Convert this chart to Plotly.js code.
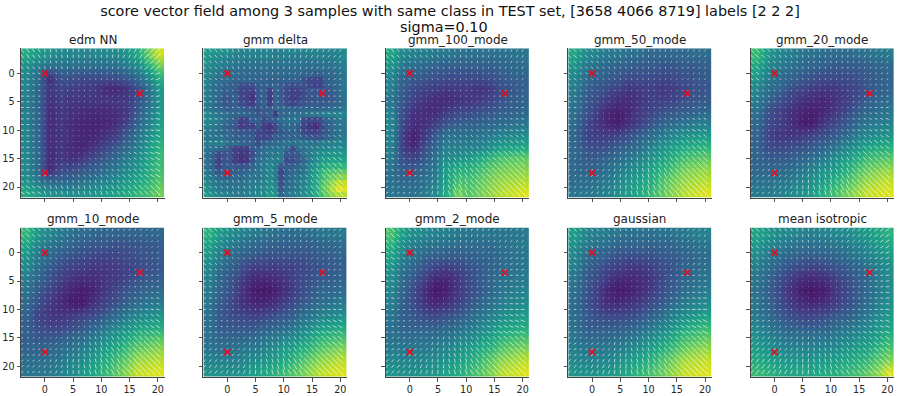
<!DOCTYPE html>
<html>
<head>
<meta charset="utf-8">
<script src="https://cdn.plot.ly/plotly-3.0.1.min.js"></script>
<style>html,body{margin:0;padding:0;background:#fff}</style>
</head>
<body>
<div id="chart" style="width:900px;height:396px"></div>
<script>
var panelNames = ['edm NN','gmm delta','gmm_100_mode','gmm_50_mode','gmm_20_mode','gmm_10_mode','gmm_5_mode','gmm_2_mode','gaussian','mean isotropic'];
var sampleX = [0, 16.8, 0];
var sampleY = [0, 3.5, 17.5];
var tickVals = [0,5,10,15,20];

// colour readings, 0-100 of each panel's own scale
var gridX = [-3.25,-1.3,0.65,2.6,4.55,6.5,8.45,10.4,12.35,14.3,16.25,18.2,20.15];
var gridY = [-3.4,-1.38,0.64,2.66,4.68,6.7,8.72,10.74,12.76,14.78,16.8,18.82,20.84];
// gmm delta has hard edges so it is read cell by cell
var cellX = [-3.72,-2.7,-1.69,-0.67,0.34,1.36,2.38,3.39,4.41,5.42,6.44,7.46,8.47,9.49,10.5,11.52,12.54,13.55,14.57,15.58,16.6,17.62,18.63,19.65,20.67];
var cellY = [-3.9,-2.89,-1.88,-0.87,0.14,1.15,2.16,3.17,4.18,5.2,6.21,7.22,8.23,9.24,10.25,11.26,12.27,13.28,14.29,15.3,16.32,17.33,18.34,19.35,20.36,21.37];

var zEdm = [
[62,55,50,46,45,45,45,46,48,52,62,80,98],
[50,42,37,36,35,35,35,35,36,40,48,65,82],
[45,33,8,24,22,20,20,20,22,25,33,45,65],
[43,30,12,17,15,14,13,8,6,10,20,35,55],
[42,30,10,15,12,12,12,12,13,14,22,34,52],
[42,30,8,13,10,8,7,7,9,12,26,38,54],
[43,30,8,12,8,6,5,6,8,16,30,42,58],
[44,30,8,12,8,6,6,9,14,24,36,48,62],
[44,30,8,12,8,6,10,16,24,32,42,54,66],
[45,31,8,13,9,12,18,25,32,40,48,58,70],
[45,32,6,20,20,24,28,34,40,46,54,62,72],
[50,38,30,30,32,35,39,43,48,54,60,66,76],
[62,54,50,48,48,50,52,55,58,62,68,72,82]];
var zDelta = [
[54,54,52,50,48,46,44,44,44,44,44,44,42,42,44,44,44,44,44,44,44,44,44,44,46],
[52,50,48,46,44,42,42,42,42,42,42,42,42,40,40,40,40,40,40,42,42,42,42,44,46],
[50,46,44,42,40,38,38,36,36,36,36,36,36,36,36,36,36,36,36,36,36,36,38,40,42],
[46,44,42,38,36,36,36,34,34,34,34,34,34,34,34,34,34,34,34,34,34,34,36,38,40],
[44,42,38,36,34,34,32,32,32,32,32,32,32,32,32,32,32,30,30,28,28,30,32,36,38],
[44,38,36,34,32,30,30,30,30,30,30,28,30,28,28,28,28,22,18,18,18,28,30,34,38],
[42,36,34,30,28,28,20,20,20,26,28,28,30,26,22,20,20,22,18,16,16,26,30,32,38],
[42,36,34,28,28,26,18,18,16,24,28,16,30,26,20,16,16,20,24,24,24,24,28,32,38],
[42,36,32,24,24,28,18,16,11,24,28,14,30,26,20,14,16,20,24,24,24,24,26,32,36],
[40,36,32,24,24,28,20,16,14,24,28,16,30,26,20,18,20,22,24,26,26,26,28,32,36],
[40,36,34,30,28,28,28,24,24,22,26,26,30,30,30,30,30,30,30,30,30,32,34,36,38],
[44,40,38,36,34,30,30,30,28,24,26,28,14,30,32,34,34,36,38,38,40,42,42,44,44],
[46,44,40,36,32,28,16,16,28,28,20,24,28,34,36,36,36,20,18,18,20,30,34,38,40],
[42,40,38,32,28,24,14,16,16,24,14,11,20,28,32,32,28,16,12,8,18,26,32,36,38],
[40,38,36,30,30,26,24,24,24,18,16,14,20,24,28,30,28,18,16,16,20,26,32,36,38],
[38,38,38,36,32,28,28,28,26,18,18,18,28,28,30,30,30,24,24,22,24,30,34,38,40],
[40,42,42,40,34,34,30,28,28,20,28,30,34,34,36,36,36,38,38,36,40,42,42,44,44],
[38,36,34,28,26,16,14,14,26,28,34,36,38,38,32,20,34,36,40,42,44,46,46,48,48],
[36,30,20,22,24,16,12,12,20,30,36,38,40,40,24,24,24,36,40,46,48,50,52,52,54],
[36,28,16,22,24,14,10,12,24,34,38,42,42,42,20,20,24,30,40,48,54,56,58,58,60],
[36,30,18,24,26,24,22,24,30,36,40,44,42,26,26,28,30,36,46,54,58,64,66,66,68],
[40,34,24,28,26,28,28,32,34,38,42,46,42,18,28,32,34,38,48,58,66,72,74,76,78],
[42,38,30,30,30,32,32,36,38,38,42,46,42,20,30,34,38,42,50,60,68,76,80,84,86],
[46,40,38,36,34,36,36,38,40,42,44,48,44,22,32,36,40,44,52,62,72,80,88,94,96],
[50,44,40,38,38,38,38,40,42,44,46,50,48,24,34,38,42,46,54,64,74,82,92,100,100],
[54,48,44,42,40,40,40,42,44,46,48,54,52,30,36,40,44,48,56,64,72,80,88,92,94]];
var z100 = [
[60,46,44,42,40,38,36,36,36,36,36,37,38],
[52,38,34,32,30,28,28,28,28,28,30,32,34],
[44,30,26,24,22,20,20,20,20,22,26,28,30],
[42,26,20,16,14,12,14,14,10,14,22,25,28],
[38,24,16,10,8,8,10,12,14,18,24,27,30],
[42,20,10,8,8,14,18,20,22,24,28,30,32],
[46,18,8,10,16,24,28,28,30,32,34,36,38],
[44,14,4,14,26,36,36,36,38,40,44,46,48],
[42,14,6,20,32,42,42,42,44,50,56,58,60],
[40,20,16,26,38,48,50,54,60,68,74,76,78],
[36,26,28,32,40,58,64,66,72,78,82,84,86],
[36,32,32,36,44,60,72,72,78,84,88,90,92],
[38,36,36,40,48,64,82,76,82,88,94,97,100]];
var z50 = [
[60,48,44,40,38,36,34,32,32,32,32,33,34],
[52,40,36,32,30,28,26,26,24,24,26,27,28],
[46,34,30,26,24,20,20,20,18,20,22,24,26],
[42,30,24,20,16,12,14,16,12,14,20,22,24],
[38,26,20,14,8,8,12,16,16,18,22,24,26],
[36,24,16,6,4,8,14,18,22,24,28,30,32],
[34,20,12,6,2,10,16,24,30,34,38,40,42],
[32,18,14,14,16,22,28,34,40,46,50,52,54],
[32,22,20,22,26,30,36,44,50,56,62,64,66],
[32,26,26,30,34,38,44,52,58,66,72,75,78],
[32,30,32,36,40,46,52,60,66,74,82,85,88],
[34,34,36,40,46,52,58,64,74,82,88,91,94],
[38,38,40,44,50,56,62,70,78,86,94,97,100]];
var z20 = [
[70,54,46,42,38,36,34,34,34,34,36,38,40],
[62,46,40,36,32,30,28,26,26,26,28,30,32],
[54,40,34,30,26,22,20,20,20,22,26,28,30],
[46,36,30,22,18,14,12,12,16,18,24,27,30],
[42,30,22,16,10,8,6,10,14,20,28,31,34],
[36,22,16,10,6,4,6,12,18,26,32,35,38],
[32,20,16,10,4,2,12,18,24,32,38,41,44],
[30,18,12,12,12,16,20,26,32,40,46,49,52],
[30,20,18,20,22,26,30,36,44,50,58,61,64],
[30,26,26,28,30,34,40,48,54,62,70,73,76],
[32,32,32,34,38,44,50,56,64,72,80,84,88],
[36,36,38,40,44,50,56,64,72,80,88,92,96],
[40,40,42,46,50,56,64,72,80,88,96,98,100]];
var z10 = [
[68,52,46,40,36,34,32,30,30,30,30,31,32],
[60,44,38,34,30,26,24,24,22,22,24,25,26],
[52,38,32,26,22,20,18,16,18,20,22,24,26],
[46,34,26,20,16,14,12,12,14,16,20,22,24],
[40,30,22,16,10,8,8,12,14,18,24,26,28],
[36,24,18,10,5,3,6,12,18,24,28,31,34],
[32,22,14,8,3,2,10,16,22,28,34,37,40],
[30,16,12,10,12,14,18,24,32,38,44,47,50],
[28,20,16,16,20,24,30,36,44,50,56,59,62],
[28,24,24,26,30,34,40,46,54,60,68,71,74],
[30,30,32,34,38,42,48,56,62,70,78,82,86],
[34,34,36,38,44,48,54,62,70,78,88,91,94],
[38,38,40,44,48,54,60,68,76,86,96,98,100]];
var z5 = [
[66,54,48,44,40,38,36,34,34,36,38,39,40],
[58,46,40,36,32,30,28,28,28,28,30,32,34],
[52,40,34,28,24,22,22,22,22,24,26,28,30],
[46,34,28,20,14,14,14,16,18,20,24,26,28],
[42,30,24,14,6,6,8,12,18,22,26,28,30],
[40,28,22,10,3,1,4,10,18,24,30,32,34],
[38,26,18,10,6,6,10,16,22,28,34,37,40],
[36,24,20,16,14,16,20,24,30,36,42,45,48],
[36,26,24,24,24,26,30,34,40,46,54,57,60],
[36,30,30,30,32,36,40,44,50,58,66,69,72],
[38,34,36,38,40,44,50,56,62,68,76,80,84],
[44,42,42,44,48,52,56,62,70,78,86,90,94],
[50,50,50,52,56,60,66,72,78,86,94,97,100]];
var z2 = [
[74,56,50,46,44,42,40,38,38,38,38,39,40],
[66,48,42,38,36,34,34,34,32,34,36,38,40],
[58,42,36,30,28,26,26,28,30,30,34,36,38],
[52,36,30,22,16,14,18,22,26,30,34,36,38],
[48,32,24,14,6,6,12,20,26,32,36,38,40],
[44,30,20,8,1,4,12,20,26,32,38,41,44],
[42,28,20,10,6,10,16,24,30,36,42,45,48],
[38,28,24,18,16,20,24,30,36,42,48,51,54],
[36,30,28,28,28,30,34,38,44,50,56,59,62],
[36,34,34,34,36,38,42,46,52,58,66,69,72],
[40,40,40,40,42,46,50,56,62,68,76,80,84],
[46,44,44,46,48,52,56,62,70,78,86,90,94],
[52,50,50,52,54,58,62,70,76,84,94,97,100]];
var zGauss = [
[56,46,42,40,38,36,36,36,36,38,40,42,44],
[50,40,36,34,30,30,30,30,30,32,34,36,38],
[46,34,30,26,22,20,20,22,24,26,30,32,34],
[42,30,24,18,14,12,12,16,20,24,30,33,36],
[38,26,20,12,6,6,8,12,20,26,32,35,38],
[36,24,16,6,2,4,8,14,22,28,34,38,42],
[34,24,16,8,8,10,14,20,26,34,40,44,48],
[34,26,20,16,16,18,22,28,34,42,48,52,56],
[36,28,26,26,26,28,32,38,44,52,60,64,68],
[38,32,32,32,34,36,42,48,54,62,70,74,78],
[42,38,38,40,42,46,50,58,64,72,80,84,88],
[46,44,44,46,50,54,60,66,74,82,90,93,96],
[52,50,52,54,56,62,68,74,80,88,96,98,100]];
var zMean = [
[60,54,48,46,44,42,44,46,48,52,56,60,66],
[54,46,42,38,36,36,36,38,40,44,48,54,60],
[46,40,34,30,28,26,28,30,34,38,42,48,54],
[42,34,28,22,18,16,18,22,26,30,36,42,50],
[38,30,22,14,8,6,8,14,20,26,32,40,48],
[36,28,20,10,3,1,3,10,18,26,32,40,48],
[38,30,22,14,8,6,8,14,20,26,34,42,50],
[40,32,26,20,16,16,18,22,26,32,38,46,54],
[44,38,32,28,26,26,28,32,36,40,46,52,58],
[50,44,40,36,36,36,36,40,44,48,52,58,66],
[56,50,46,44,44,44,46,48,52,56,60,68,74],
[62,58,54,52,52,52,54,56,60,64,68,76,84],
[70,66,62,60,60,60,62,64,68,72,78,86,100]];

// stroke direction readings in degrees, 0 flat, 45 "/", 90 upright, 135 "\"
var angX = [-2.4,1.2,4.9,8.5,12.1,15.7,19.4];
var angY = [-2.5,1.2,5,8.7,12.5,16.2,20];

var aEdm = [[125,100,92,88,80,60,40],[170,120,90,90,80,45,20],[178,0,90,90,60,20,10],[178,0,120,120,135,170,170],[178,0,120,130,135,150,160],[178,0,115,125,130,140,150],[150,110,100,105,120,130,135]];
var aDelta = [[130,110,95,90,80,65,50],[150,135,120,90,60,40,25],[170,165,100,90,45,170,10],[170,160,120,130,100,170,170],[165,150,110,140,130,130,150],[160,140,120,140,130,125,130],[140,110,100,130,120,125,130]];
var a100 = [[130,125,115,100,85,70,60],[140,130,115,95,75,55,40],[160,150,130,100,60,10,5],[170,165,140,120,140,160,165],[175,170,110,125,130,135,140],[170,10,80,120,130,135,135],[30,50,80,115,130,135,135]];
var a50 = [[135,125,110,95,80,65,50],[145,135,115,95,70,50,35],[165,155,130,100,50,15,10],[175,170,150,130,140,150,155],[10,20,70,115,130,135,140],[35,50,75,105,120,130,135],[50,60,85,105,120,130,135]];
var a20 = [[135,125,110,95,80,62,48],[145,135,118,95,70,45,32],[165,155,135,100,50,15,5],[178,172,155,130,145,155,160],[8,20,65,115,130,138,142],[30,45,75,105,120,130,135],[45,60,85,105,120,130,135]];
var a10 = [[135,128,112,95,78,60,45],[145,135,120,95,68,42,30],[162,155,135,100,45,15,5],[178,172,155,130,150,160,165],[8,20,60,118,135,140,145],[30,45,75,108,122,132,137],[48,62,85,105,120,130,135]];
var a5 = [[135,125,108,92,75,58,45],[148,135,115,90,62,40,28],[165,158,140,90,30,12,5],[178,175,170,145,165,170,172],[5,15,50,120,140,150,152],[30,45,75,108,125,135,140],[50,65,85,105,122,132,138]];
var a2 = [[135,125,108,90,72,55,42],[148,138,115,88,55,35,22],[165,160,145,85,25,8,3],[178,176,175,150,170,175,178],[5,12,45,125,145,155,158],[30,45,72,108,125,135,140],[50,65,85,105,122,132,138]];
var aGauss = [[132,122,105,90,72,55,42],[145,135,112,88,58,38,25],[165,158,140,88,28,10,3],[178,176,172,148,168,172,175],[8,15,50,122,140,150,152],[32,48,75,108,125,135,140],[52,65,85,105,122,132,138]];
var aMean = [[132,118,97,75,57,44,35],[145,130,105,70,45,30,22],[170,165,140,60,20,10,5],[5,8,30,150,170,175,178],[25,35,60,120,145,155,160],[42,55,78,105,125,138,145],[52,65,85,105,122,132,140]];

var zAll = [zEdm,zDelta,z100,z50,z20,z10,z5,z2,zGauss,zMean];
var aAll = [aEdm,aDelta,a100,a50,a20,a10,a5,a2,aGauss,aMean];

var W = 900, H = 396;
var panelLefts = [21, 203.4, 385.8, 568.2, 750.6];
var panelTops = [48.3, 227.5];
var panelW = 143.5, panelH = 149.5;
var textCol = '#262626';
var font = 'DejaVu Sans, sans-serif';

function nearest(arr, v){
	var best = 0;
	for(var i=1;i<arr.length;i++){
		if(Math.abs(arr[i]-v) < Math.abs(arr[best]-v)) best = i;
	}
	return best;
}

var data = [];
var layout = {
	width: W, height: H,
	margin: {l:0,r:0,t:0,b:0},
	paper_bgcolor: '#fff',
	plot_bgcolor: '#fff',
	showlegend: false,
	title: {
		text: 'score vector field among 3 samples with same class in TEST set, [3658 4066 8719] labels [2 2 2]',
		font: {family: font, size: 14.4, color: '#111'},
		x: 0.5, xanchor: 'center', xref: 'paper',
		y: 1-11/H, yanchor: 'middle', yref: 'container'
	},
	annotations: [{
		text: 'sigma=0.10', showarrow: false,
		xref: 'paper', yref: 'paper',
		x: 444/W, y: 1-27/H,
		xanchor: 'center', yanchor: 'middle',
		font: {family: font, size: 14.4, color: '#111'}
	}]
};

for(var p=0;p<10;p++){
	var col = p%5, row = Math.floor(p/5);
	var id = p==0 ? '' : String(p+1);
	var xa = 'x'+id, ya = 'y'+id;
	var pLeft = panelLefts[col], pTop = panelTops[row];
	var isDelta = panelNames[p]=='gmm delta';
	var hx = isDelta ? cellX : gridX;
	var hy = isDelta ? cellY : gridY;

	data.push({
		type: 'heatmap', x: hx, y: hy, z: zAll[p],
		colorscale: 'Viridis', zmin: -6, zmax: 106,
		zsmooth: isDelta ? false : 'best', showscale: false, hoverinfo: 'skip',
		xaxis: xa, yaxis: ya
	});

	// white quiver strokes, one per unit cell
	var sx = [], sy = [];
	for(var gy=-4;gy<=21;gy++){
		for(var gx=-4;gx<=20;gx++){
			var zv = zAll[p][nearest(hy,gy)][nearest(hx,gx)];
			var deg = aAll[p][nearest(angY,gy)][nearest(angX,gx)];
			var len = 0.05 + Math.pow(zv/100,1.5)*0.75;
			var c = Math.cos(deg*Math.PI/180)*len, s = Math.sin(deg*Math.PI/180)*len;
			sx.push(gx-c, gx+c, null);
			sy.push(gy+s, gy-s, null);
		}
	}
	data.push({
		type: 'scatter', mode: 'lines', x: sx, y: sy,
		line: {color: 'rgba(255,255,255,0.7)', width: 0.9},
		hoverinfo: 'skip', xaxis: xa, yaxis: ya
	});

	data.push({
		type: 'scatter', mode: 'markers', x: sampleX, y: sampleY,
		marker: {symbol: 'x-thin', size: 6, line: {color: '#ee0a1e', width: 1.7}},
		hoverinfo: 'skip', xaxis: xa, yaxis: ya
	});

	layout['xaxis'+id] = {
		domain: [pLeft/W, (pLeft+panelW)/W],
		range: [-4.23, 21.18],
		anchor: ya,
		tickvals: tickVals, showticklabels: row==1,
		ticks: 'outside', ticklen: 3.5, tickwidth: 0.8, tickcolor: textCol,
		tickfont: {family: font, size: 9.6, color: textCol},
		showgrid: false, zeroline: false,
		showline: true, linecolor: '#444', linewidth: 1, mirror: false
	};
	layout['yaxis'+id] = {
		domain: [1-(pTop+panelH)/H, 1-pTop/H],
		range: [21.88, -4.41],
		anchor: xa,
		tickvals: tickVals, showticklabels: col==0,
		ticks: 'outside', ticklen: 3.5, tickwidth: 0.8, tickcolor: textCol,
		tickfont: {family: font, size: 9.6, color: textCol},
		showgrid: false, zeroline: false,
		showline: true, linecolor: '#444', linewidth: 1, mirror: false
	};
	layout.annotations.push({
		text: panelNames[p], showarrow: false,
		xref: 'paper', yref: 'paper',
		x: (pLeft+panelW/2)/W, y: 1-(pTop+0.5)/H,
		xanchor: 'center', yanchor: 'bottom',
		font: {family: font, size: 12, color: '#222'}
	});
}

Plotly.newPlot('chart', data, layout, {displayModeBar: false, staticPlot: true});
</script>
</body>
</html>
